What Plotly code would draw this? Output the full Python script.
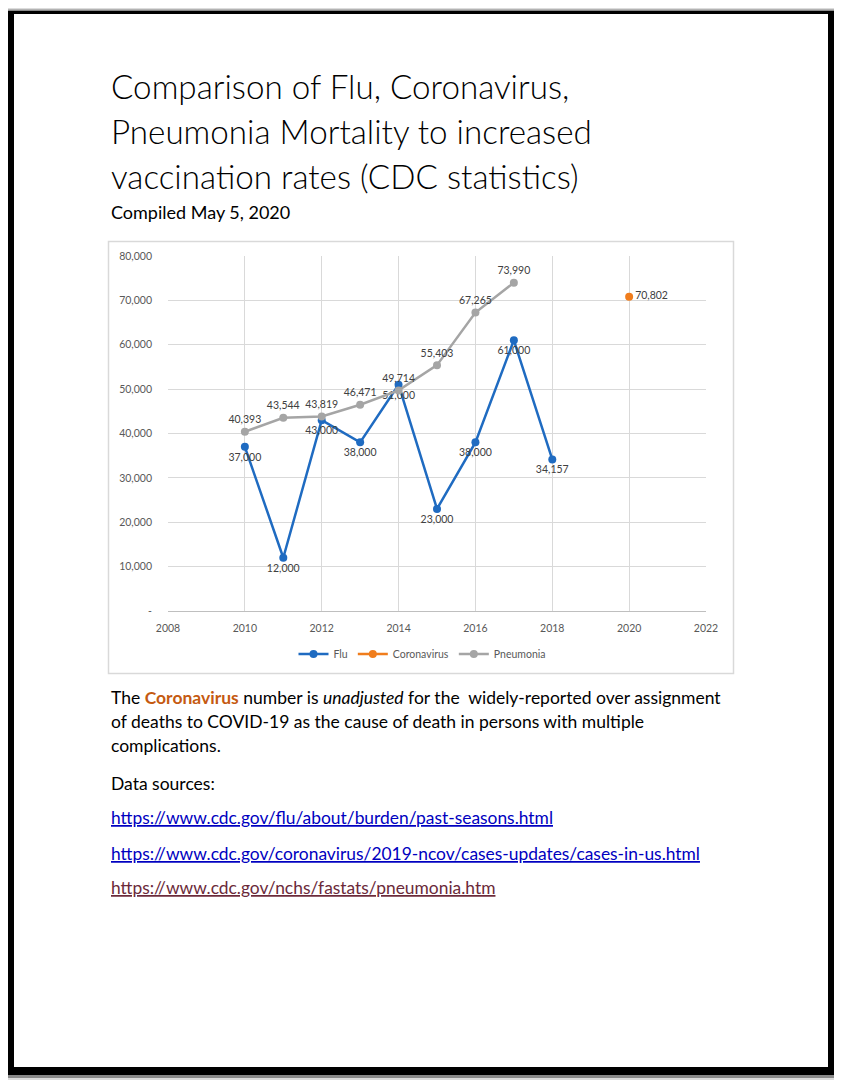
import plotly.graph_objects as go

# ---------------- data ----------------
flu_years = [2010, 2011, 2012, 2013, 2014, 2015, 2016, 2017, 2018]
flu_deaths = [37000, 12000, 43000, 38000, 51000, 23000, 38000, 61000, 34157]
flu_labels = ["37,000", "12,000", "43,000", "38,000", "51,000", "23,000", "38,000", "61,000", "34,157"]

covid_years = [2020]
covid_deaths = [70802]
covid_labels = ["70,802"]

pneu_years = [2010, 2011, 2012, 2013, 2014, 2015, 2016, 2017]
pneu_deaths = [40393, 43544, 43819, 46471, 49714, 55403, 67265, 73990]
pneu_labels = ["40,393", "43,544", "43,819", "46,471", "49,714", "55,403", "67,265", "73,990"]

x_ticks = [2008, 2010, 2012, 2014, 2016, 2018, 2020, 2022]
y_ticks = [0, 10000, 20000, 30000, 40000, 50000, 60000, 70000, 80000]
y_ticktext = ["-", "10,000", "20,000", "30,000", "40,000", "50,000", "60,000", "70,000", "80,000"]

title_lines = ["Comparison of Flu, Coronavirus,",
               "Pneumonia Mortality to increased",
               "vaccination rates (CDC statistics)"]
subtitle = "Compiled May 5, 2020"
links = ["https://www.cdc.gov/flu/about/burden/past-seasons.html",
         "https://www.cdc.gov/coronavirus/2019-ncov/cases-updates/cases-in-us.html",
         "https://www.cdc.gov/nchs/fastats/pneumonia.htm"]

# ---------------- geometry helpers (page pixels -> paper) ----------------
# the figure sits 8px in from the page corner (body margin)
OX, OY = 8, 8
W, H = 834, 1074


def px(x):
    return (x - OX) / W


def py(y):
    return 1 - (y - OY) / H


FONT = "Lato"
BLUE = "#1f6bc1"
ORANGE = "#f07d1c"
GRAY = "#a5a5a5"
LBL = dict(size=10.5, color="#404040", family=FONT)

fig = go.Figure()
fig.add_trace(go.Scatter(x=flu_years, y=flu_deaths, name="Flu", mode="lines+markers+text",
                         line=dict(color=BLUE, width=2.5), marker=dict(color=BLUE, size=8),
                         text=flu_labels, textposition="bottom center", textfont=LBL))
fig.add_trace(go.Scatter(x=covid_years, y=covid_deaths, name="Coronavirus", mode="lines+markers+text",
                         line=dict(color=ORANGE, width=2.5), marker=dict(color=ORANGE, size=8),
                         text=covid_labels, textposition="middle right", textfont=LBL))
fig.add_trace(go.Scatter(x=pneu_years, y=pneu_deaths, name="Pneumonia", mode="lines+markers+text",
                         line=dict(color=GRAY, width=2.5), marker=dict(color=GRAY, size=8),
                         text=pneu_labels, textposition="top center", textfont=LBL))

shapes = []
# page frame with shadow
shapes.append(dict(type="rect", xref="paper", yref="paper", x0=px(5), x1=px(840), y0=py(1080), y1=py(8),
                   fillcolor="#dcdcdc", line=dict(width=0), layer="below"))
shapes.append(dict(type="rect", xref="paper", yref="paper", x0=px(7), x1=px(838), y0=py(1078), y1=py(9.5),
                   fillcolor="#8a8a8a", line=dict(width=0), layer="below"))
shapes.append(dict(type="rect", xref="paper", yref="paper", x0=px(8), x1=px(836), y0=py(1075), y1=py(11),
                   fillcolor="#000000", line=dict(width=0), layer="below"))
shapes.append(dict(type="rect", xref="paper", yref="paper", x0=px(14), x1=px(828), y0=py(1067), y1=py(14),
                   fillcolor="#ffffff", line=dict(width=0), layer="below"))
# chart frame
shapes.append(dict(type="rect", xref="paper", yref="paper", x0=px(108.5), x1=px(733.5), y0=py(673.5), y1=py(241.5),
                   fillcolor="#ffffff", line=dict(width=1.5, color="#d9d9d9"), layer="below"))

annotations = []
for i, t in enumerate(title_lines):
    annotations.append(dict(text=t, xref="paper", yref="paper", x=px(109), y=py(86 + i * 45),
                            xanchor="left", yanchor="middle", showarrow=False,
                            font=dict(family=FONT, size=33.2, color="#000000", weight=300)))
annotations.append(dict(text=subtitle, xref="paper", yref="paper", x=px(109), y=py(212),
                        xanchor="left", yanchor="middle", showarrow=False,
                        font=dict(family=FONT, size=18, color="#000000")))

para = ["The <b><span style='color:#c55a11'>Coronavirus</span></b> number is <i>unadjusted</i> for the  widely-reported over assignment",
        "of deaths to COVID-19 as the cause of death in persons with multiple",
        "complications.",
        "Data sources:"]
para_y = [697, 721, 745, 783]
for t, yy in zip(para, para_y):
    annotations.append(dict(text=t, xref="paper", yref="paper", x=px(109), y=py(yy),
                            xanchor="left", yanchor="middle", showarrow=False,
                            font=dict(family=FONT, size=17.5, color="#000000")))
link_colors = ["#0000c0", "#0000c0", "#6b2a3a"]
link_y = [817, 853, 887]
for t, c, yy in zip(links, link_colors, link_y):
    annotations.append(dict(text=t, xref="paper", yref="paper", x=px(109), y=py(yy),
                            xanchor="left", yanchor="middle", showarrow=False,
                            font=dict(family=FONT, size=17.4, color=c, lineposition="under")))

fig.update_layout(
    width=W, height=H, autosize=False,
    margin=dict(l=0, r=0, t=0, b=0, pad=0, autoexpand=False),
    paper_bgcolor="#ffffff", plot_bgcolor="rgba(0,0,0,0)",
    shapes=shapes, annotations=annotations,
    showlegend=True,
    legend=dict(orientation="h", x=px(422), xanchor="center", y=py(654), yanchor="middle",
                font=dict(family=FONT, size=10.5, color="#595959"), bgcolor="rgba(0,0,0,0)",
                itemwidth=30, tracegroupgap=0),
    xaxis=dict(domain=[px(168), px(706)], range=[2008, 2022], tickvals=x_ticks, automargin=False,
               showgrid=True, gridcolor="#d9d9d9", gridwidth=1, zeroline=False,
               showline=True, linecolor="#bfbfbf", linewidth=1, ticklabelstandoff=7,
               tickfont=dict(family=FONT, size=10.5, color="#595959"), ticks="", ticklen=0),
    yaxis=dict(domain=[py(611), py(256)], range=[0, 80000], tickvals=y_ticks, ticktext=y_ticktext,
               automargin=False, ticklabelstandoff=15,
               showgrid=True, gridcolor="#d9d9d9", gridwidth=1, zeroline=False, showline=False,
               tickfont=dict(family=FONT, size=10.5, color="#595959"), ticks="", ticklen=0),
)

fig.write_html("out.html")
